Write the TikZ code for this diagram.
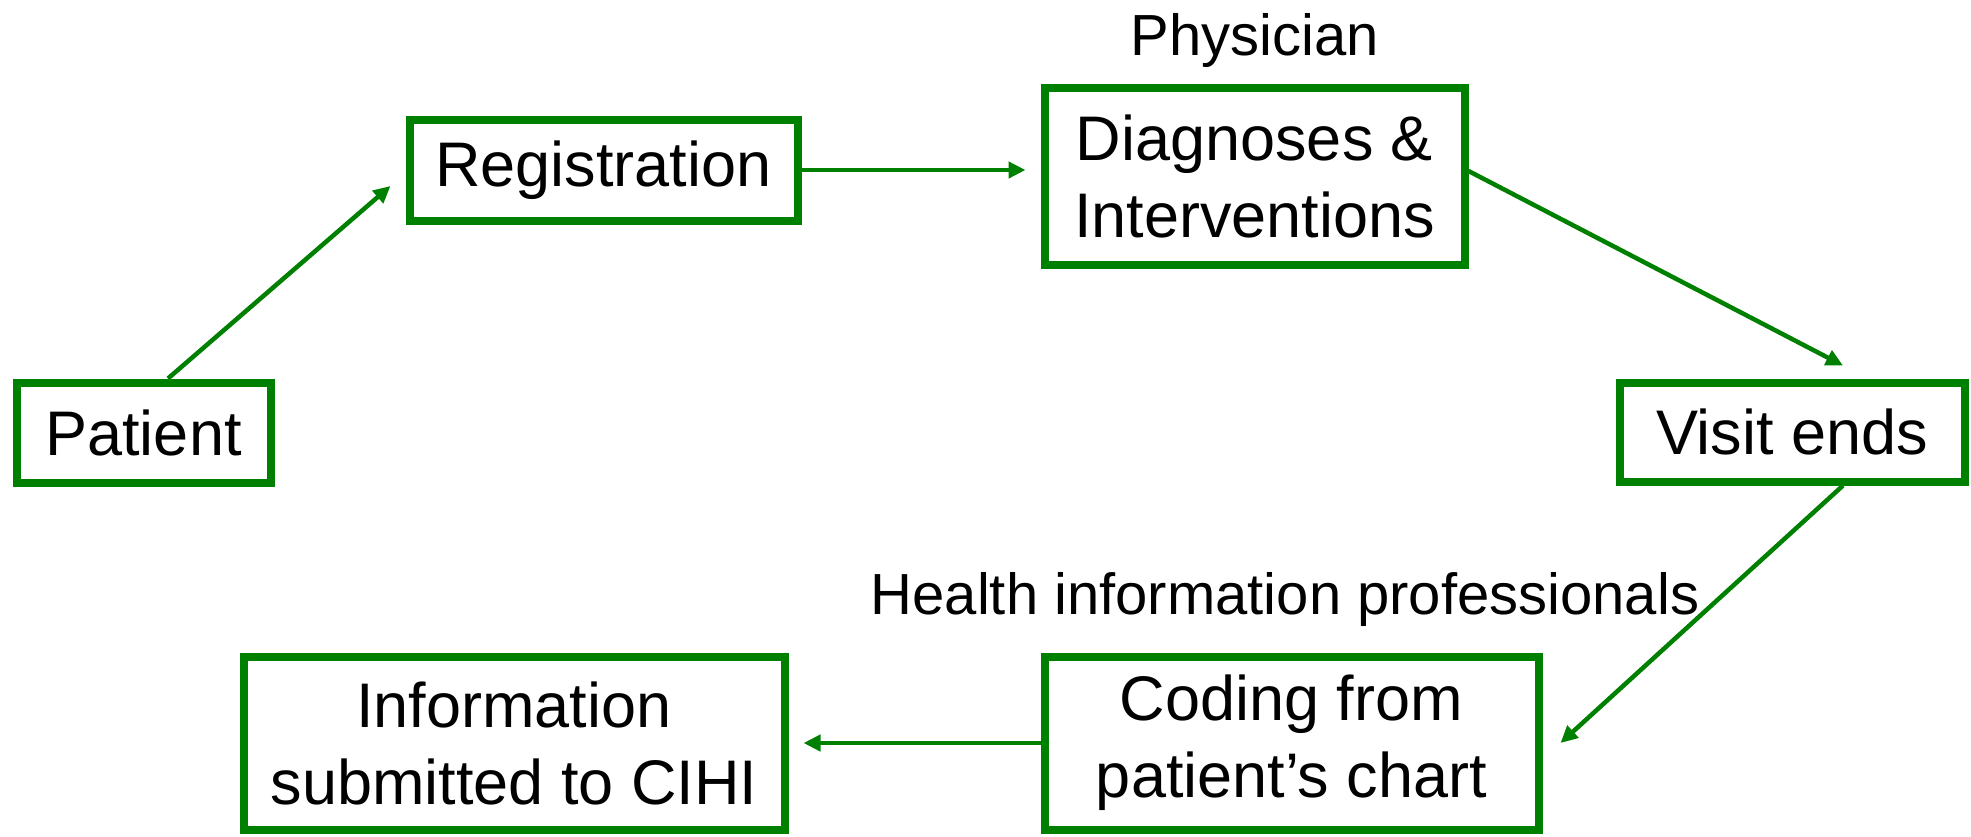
\documentclass[tikz,border=0pt]{standalone}
\usepackage{fontspec}
\setmainfont{Liberation Sans}
\usetikzlibrary{arrows.meta}
\definecolor{boxgreen}{RGB}{0,128,0}
\begin{document}
\begin{tikzpicture}[x=1pt,y=-1pt,
  box/.style={draw=boxgreen, line width=8pt, rectangle, inner sep=0pt, align=center,
    font=\fontsize{63}{77}\selectfont},
  lbl/.style={inner sep=0pt, font=\fontsize{58}{70}\selectfont},
  arr/.style={draw=boxgreen, line width=4.5pt, -{Triangle[length=17pt,width=16pt]}}]
\useasboundingbox[fill=white] (0,0) rectangle (1971,836);
\node[box, minimum width=254pt, minimum height=100pt] (pat) at (143.5,432.5) {Patient};
\node[box, minimum width=388pt, minimum height=101pt] (reg) at (603.5,170) {Registration};
\node[box, minimum width=420pt, minimum height=177pt] (diag) at (1254.5,176) {Diagnoses \&\\Interventions};
\node[box, minimum width=345pt, minimum height=99pt] (visit) at (1792,432) {Visit ends};
\node[box, minimum width=494pt, minimum height=173pt] (cod) at (1291.5,743) {Coding from\\patient’s chart};
\node[box, minimum width=541pt, minimum height=173pt] (info) at (514,743) {Information\\submitted to CIHI};
\node[lbl, anchor=base] (phys) at (1255,55) {Physician};
\node[lbl, anchor=base] (hip) at (1285,614) {Health information professionals};
\draw[arr] ([xshift=24.5pt]pat.north) -- ([xshift=-15pt,yshift=-16pt]reg.west);
\draw[arr] (reg.east) -- ([xshift=-15pt]reg.east -| diag.west);
\draw[arr] ([yshift=5pt]diag.east) -- ([xshift=51pt,yshift=13pt]visit.north);
\draw[arr] ([xshift=51pt]visit.south) -- ([xshift=18pt]cod.east);
\draw[arr] (cod.west) -- ([xshift=15pt]info.east);
\end{tikzpicture}
\end{document}
